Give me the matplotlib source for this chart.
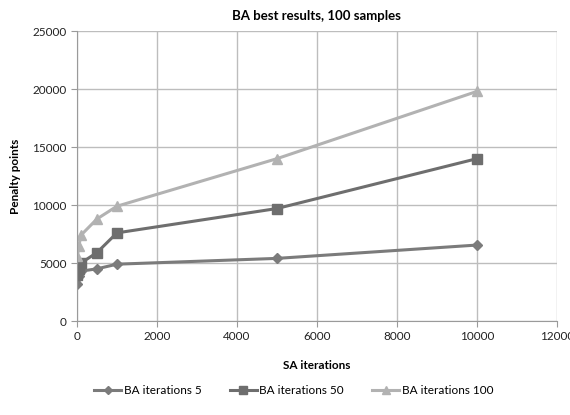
import matplotlib
matplotlib.use('Agg')
import matplotlib.pyplot as plt

sa_iterations = [10, 50, 100, 500, 1000, 5000, 10000]
ba_5 = [3200, 3900, 4300, 4500, 4900, 5400, 6550]
ba_50 = [4000, 4500, 5000, 5900, 7600, 9700, 14000]
ba_100 = [5600, 6500, 7400, 8800, 9900, 14000, 19800]

x_ticks = [0, 2000, 4000, 6000, 8000, 10000, 12000]
y_ticks = [0, 5000, 10000, 15000, 20000, 25000]

plt.rcParams['font.family'] = ['Lato', 'DejaVu Sans']

fig = plt.figure(figsize=(5.7, 4.15), dpi=100)
ax = fig.add_axes([0.135, 0.2265, 0.842, 0.6985])

ax.plot(sa_iterations, ba_5, color='#7b7b7b', lw=2.2, marker='D', ms=5,
        label='BA iterations 5')
ax.plot(sa_iterations, ba_50, color='#6e6e6e', lw=2.2, marker='s', ms=7,
        label='BA iterations 50')
ax.plot(sa_iterations, ba_100, color='#b2b2b2', lw=2.2, marker='^', ms=7,
        label='BA iterations 100')

ax.set_xlim(0, 12000)
ax.set_ylim(0, 25000)
ax.set_xticks(x_ticks)
ax.set_yticks(y_ticks)
ax.grid(True, color='#bdbdbd', lw=1)
ax.set_axisbelow(True)
for side in ['top', 'right']:
    ax.spines[side].set_visible(False)
for side in ['left', 'bottom']:
    ax.spines[side].set_color('#9a9a9a')
ax.tick_params(labelsize=8.5, colors='#9a9a9a', labelcolor='#222222', length=4)

ax.set_title('BA best results, 100 samples', fontsize=9.5, fontweight='bold', pad=8)
ax.set_xlabel('SA iterations', fontsize=8.5, fontweight='bold', labelpad=13)
ax.set_ylabel('Penalty points', fontsize=8.5, fontweight='bold', labelpad=8)

fig.legend(loc='lower center', bbox_to_anchor=(0.515, 0.02), ncol=3, frameon=False,
           fontsize=8.5, handlelength=2.3, handletextpad=0.2, columnspacing=2.4,
           markerscale=0.8)

fig.savefig('out.png', dpi=100)
